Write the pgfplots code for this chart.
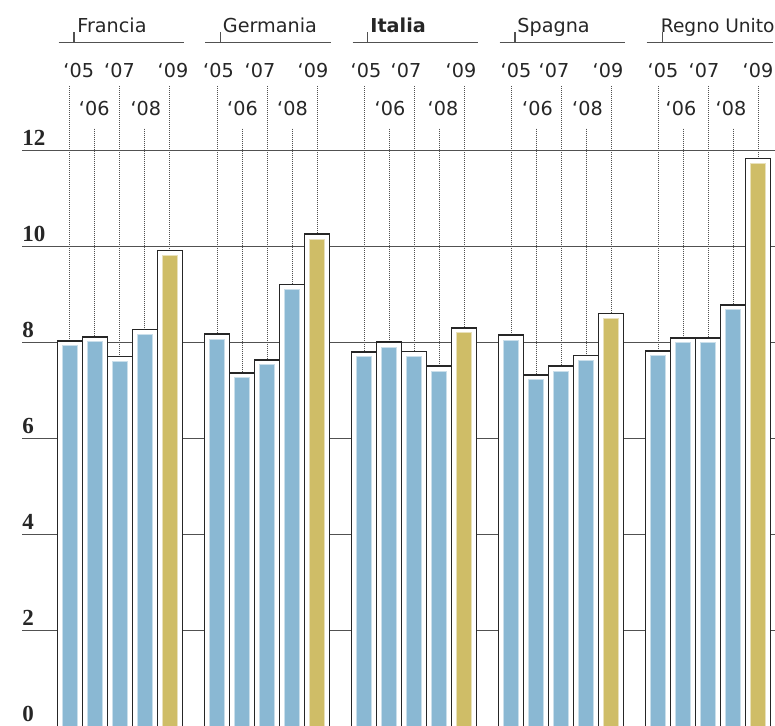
\documentclass[border=0pt]{standalone}
\usepackage{fontspec}
\setmainfont{DejaVu Sans}
\newfontfamily\numfont{Liberation Serif}
\usepackage{pgfplots}
\pgfplotsset{compat=1.18}
\usepackage{pgfplotstable}

\definecolor{barblue}{HTML}{8AB8D3}
\definecolor{bargold}{HTML}{CFBD67}
\definecolor{ink}{HTML}{262626}
\tikzset{leader/.style={ink!80, line width=0.4pt, dash pattern=on 0.5pt off 0.5pt}}

% bar centres in px
\pgfplotstableread{
x     v
69.8  8.04
94.8  8.12
119.8 7.71
144.8 8.27
216.9 8.18
241.9 7.37
266.9 7.64
291.9 9.21
364.0 7.81
389.0 8.01
414.0 7.82
439.0 7.51
511.1 8.16
536.1 7.33
561.1 7.51
586.1 7.73
658.2 7.83
683.2 8.10
708.2 8.10
733.2 8.79
}\bluebars
\pgfplotstableread{
x     v
169.8 9.92
316.9 10.26
464.0 8.31
611.1 8.61
758.2 11.84
}\goldbars

\newcommand\lblfont{\fontsize{9.6}{11}\selectfont}
\newcommand\grp[5]{%
  \draw[ink!80, line width=0.6pt] (axis cs:#1,14.25) -- (axis cs:#2,14.25);
  \draw[ink!80, line width=0.6pt] (axis cs:#3,14.25) -- (axis cs:#3,14.47);
  \node[anchor=base west, inner sep=0pt, font=\lblfont, text=ink] at (axis cs:#4,14.47) {#5};
}
\newcommand\yr[3]{\node[anchor=base, inner sep=0pt, font=\lblfont, text=ink] at (axis cs:#1,#2) {‘#3};}

\begin{document}
\begin{tikzpicture}
\useasboundingbox (-11pt,0.85pt) rectangle (376.5pt,363.35pt);
\begin{axis}[
  scale only axis, x=0.5pt, y=24pt,
  xmin=22, xmax=775, ymin=0, ymax=15.14,
  axis line style={draw=none}, xtick=\empty,
  ytick={2,4,...,12}, ymajorgrids,
  major grid style={ink!80, line width=0.6pt},
  major tick length=0pt,
  /pgf/number format/assume math mode=true,
  yticklabel style={anchor=base west, inner sep=0pt, yshift=2.8pt,
    font={\numfont\bfseries\fontsize{11.5}{12}\selectfont}, text=ink},
  clip=true, clip mode=individual,
]
% leader lines, hidden below the bar tops by the white bars
\pgfplotsinvokeforeach{69.8,119.8,169.8,216.9,266.9,316.9,364.0,414.0,464.0,511.1,561.1,611.1,658.2,708.2,758.2}{
  \draw[leader] (axis cs:#1,13.35) -- (axis cs:#1,0.5);
}
\pgfplotsinvokeforeach{94.8,144.8,241.9,291.9,389.0,439.0,536.1,586.1,683.2,733.2}{
  \draw[leader] (axis cs:#1,12.46) -- (axis cs:#1,0.5);
}

% outer white frames
\addplot[ybar, bar width=25, bar shift=0, fill=white, draw=ink, line width=0.75pt] table[x=x, y=v] {\bluebars};
\addplot[ybar, bar width=25, bar shift=0, fill=white, draw=ink, line width=0.75pt] table[x=x, y=v] {\goldbars};
% inner coloured bars
\addplot[ybar, bar width=15, bar shift=0, fill=barblue, draw=barblue!45!white, line width=0.5pt, yshift=-2.5pt] table[x=x, y=v] {\bluebars};
\addplot[ybar, bar width=15, bar shift=0, fill=bargold, draw=bargold!45!white, line width=0.5pt, yshift=-2.5pt] table[x=x, y=v] {\goldbars};

\node[anchor=base west, inner sep=0pt, yshift=2.8pt, font={\numfont\bfseries\fontsize{11.5}{12}\selectfont}, text=ink] at (axis cs:22,0) {0};

\grp{58.7}{184}{74}{77}{Francia}
\grp{205.4}{331}{220.5}{222.5}{Germania}
\grp{352.5}{478}{367.5}{370}{\textbf{Italia}}
\grp{499.5}{625}{515}{517}{Spagna}
\grp{646.7}{772.7}{662.7}{660.5}{{\fontsize{9.3}{11}\selectfont Regno Unito}}

\yr{78.7}{13.535}{05}\yr{119.5}{13.535}{07}\yr{173}{13.535}{09}
\yr{218.5}{13.535}{05}\yr{260}{13.535}{07}\yr{313}{13.535}{09}
\yr{366}{13.535}{05}\yr{406}{13.535}{07}\yr{461}{13.535}{09}
\yr{516}{13.535}{05}\yr{554}{13.535}{07}\yr{608}{13.535}{09}
\yr{663}{13.535}{05}\yr{704}{13.535}{07}\yr{758}{13.535}{09}
\yr{94.2}{12.73}{06}\yr{145.8}{12.73}{08}
\yr{242.5}{12.73}{06}\yr{292.5}{12.73}{08}
\yr{390}{12.73}{06}\yr{443}{12.73}{08}
\yr{537.5}{12.73}{06}\yr{587.5}{12.73}{08}
\yr{681}{12.73}{06}\yr{731}{12.73}{08}
\end{axis}
\end{tikzpicture}
\end{document}
